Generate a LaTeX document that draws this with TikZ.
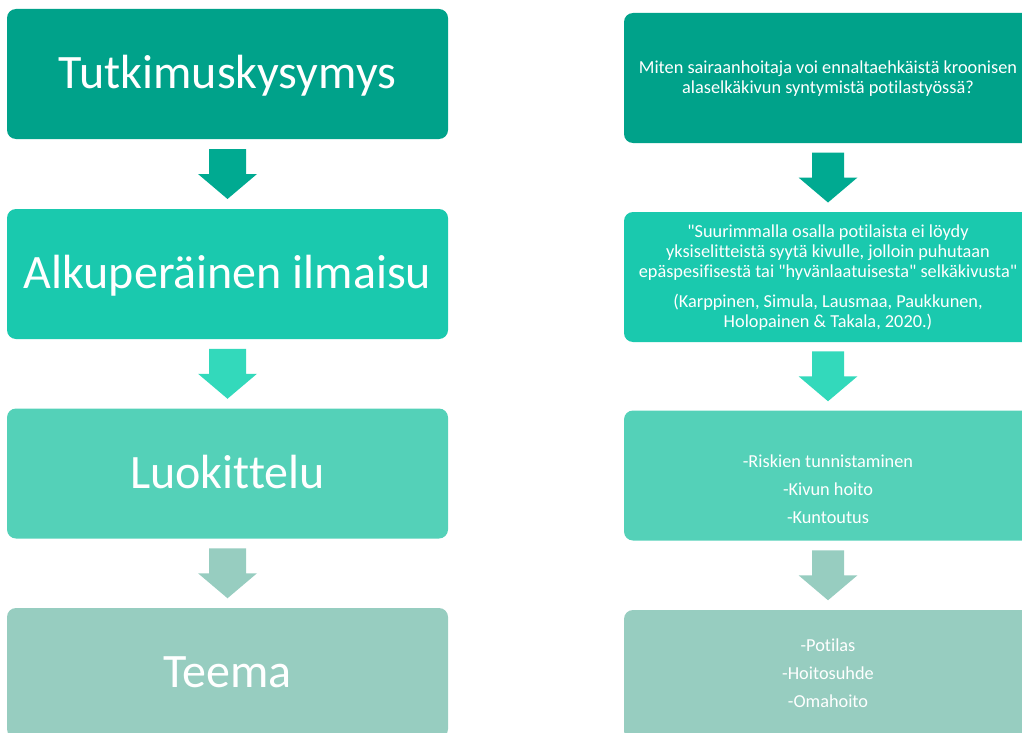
\documentclass[tikz,border=0pt]{standalone}
\usepackage{fontspec}
\setmainfont{Carlito}[Ligatures={TeXOff,CommonOff}]
\usetikzlibrary{calc}
\definecolor{cA}{RGB}{0,162,138}
\definecolor{aA}{RGB}{0,170,145}
\definecolor{cB}{RGB}{26,201,174}
\definecolor{aB}{RGB}{51,217,187}
\definecolor{cC}{RGB}{84,209,184}
\definecolor{cD}{RGB}{151,205,192}
\tikzset{
  box/.style={rounded corners=9pt, inner sep=0pt, minimum height=130pt},
  lbox/.style={box, minimum width=441pt},
  rbox/.style={box, minimum width=408pt},
  bigtxt/.style={text=white, inner sep=0pt, anchor=base, font=\fontsize{48}{56}\selectfont},
  smalltxt/.style={text=white, inner sep=0pt, anchor=base, font=\fontsize{18.3}{21}\selectfont},
}
\newcommand{\blockarr}[4]{% top box, bottom box, colour, shaft half width
  \coordinate (m-#1) at ($(#1.south)!0.5!(#2.north)$);
  \fill[#3, shift={(m-#1)}] (-#4,-25) -- (#4,-25) -- (#4,0) -- (29.5,0) -- (0,25) -- (-29.5,0) -- (-#4,0) -- cycle;
}
\begin{document}
\begin{tikzpicture}[x=1pt,y=-1pt]
\useasboundingbox (0,0) rectangle (1022,733);
\clip (0,0) rectangle (1022,733);
% left column
\node[lbox, fill=cA] (L1) at (227.5,74) {};
\node[lbox, fill=cB] (L2) at (227.5,274) {};
\node[lbox, fill=cC] (L3) at (227.5,473.5) {};
\node[lbox, fill=cD] (L4) at (227.5,673) {};
\node[bigtxt] (t1) at ($(L1.center)+(0,14.5)$) {Tutkimuskysymys};
\node[bigtxt] (t2) at ($(L2.center)+(0,14.5)$) {Alkuperäinen ilmaisu};
\node[bigtxt] (t3) at ($(L3.center)+(0,14.5)$) {Luokittelu};
\node[bigtxt] (t4) at ($(L4.center)+(0,14.5)$) {Teema};
\blockarr{L1}{L2}{aA}{18.5}
\blockarr{L2}{L3}{aB}{18.5}
\blockarr{L3}{L4}{cD}{18.5}
% right column
\node[rbox, fill=cA] (R1) at (828,78) {};
\node[rbox, fill=cB] (R2) at (828,277) {};
\node[rbox, fill=cC] (R3) at (828,475.5) {};
\node[rbox, fill=cD] (R4) at (828,675) {};
\node[smalltxt] (r1a) at (828,74) {Miten sairaanhoitaja voi ennaltaehkäistä kroonisen};
\node[smalltxt] (r1b) at (828,94) {alaselkäkivun syntymistä potilastyössä?};
\node[smalltxt] (r2a) at (828,237) {"Suurimmalla osalla potilaista ei löydy};
\node[smalltxt] (r2b) at (828,257) {yksiselitteistä syytä kivulle, jolloin puhutaan};
\node[smalltxt] (r2c) at (828,277) {epäspesifisestä tai "hyvänlaatuisesta" selkäkivusta"};
\node[smalltxt] (r2d) at (828,307) {(Karppinen, Simula, Lausmaa, Paukkunen,};
\node[smalltxt] (r2e) at (828,327) {Holopainen \& Takala, 2020.)};
\node[smalltxt] (r3a) at (828,467) {-Riskien tunnistaminen};
\node[smalltxt] (r3b) at (828,495) {-Kivun hoito};
\node[smalltxt] (r3c) at (828,523) {-Kuntoutus};
\node[smalltxt] (r4a) at (828,651) {-Potilas};
\node[smalltxt] (r4b) at (828,679) {-Hoitosuhde};
\node[smalltxt] (r4c) at (828,707) {-Omahoito};
\blockarr{R1}{R2}{aA}{16}
\blockarr{R2}{R3}{aB}{16}
\blockarr{R3}{R4}{cD}{16}
\end{tikzpicture}
\end{document}
